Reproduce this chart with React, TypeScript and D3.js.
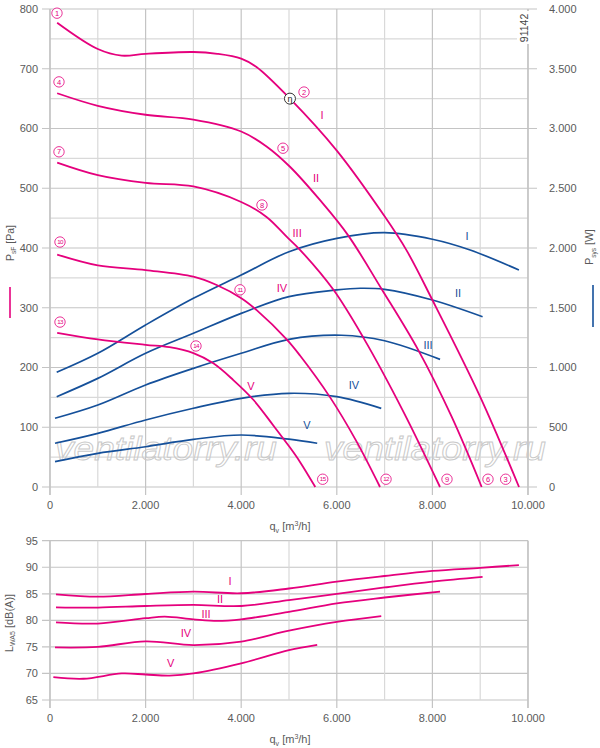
import React from "react";
import * as d3 from "d3";

type Pt = [number, number];

// static pressure psF [Pa] vs qv [m3/h], speeds I..V
const psfI: Pt[] = [[150, 777], [1000, 733], [1500, 722], [2000, 725], [3000, 728], [3500, 725], [4000, 717], [4320, 703], [5020, 650], [6000, 563], [7000, 453], [7460, 396], [8000, 313], [9000, 151], [9812, 0]];
const psfII: Pt[] = [[150, 659], [1000, 638], [2000, 623], [3000, 615], [4000, 595], [4530, 570], [5020, 536], [5650, 480], [6230, 422], [6940, 331], [7705, 229], [8400, 118], [9031, 0]];
const psfIII: Pt[] = [[150, 543], [1000, 522], [2000, 509], [3000, 503], [4000, 477], [4530, 452], [4950, 419], [5230, 397], [5930, 330], [6555, 250], [7400, 125], [8159, 0]];
const psfIV: Pt[] = [[150, 389], [1000, 371], [2000, 363], [3000, 352], [3487, 338], [4002, 316], [4324, 296], [4951, 247], [5230, 220], [5860, 150], [6400, 78], [6904, 0]];
const psfV: Pt[] = [[150, 258], [1000, 247], [2000, 238], [2500, 234], [3000, 224], [3417, 207], [3835, 179], [4254, 146], [4672, 103], [5021, 66], [5230, 42], [5550, 0]];

// system power Psys [W]
const sysI: Pt[] = [[140, 960], [1000, 1119], [2000, 1356], [3000, 1579], [4000, 1774], [5000, 1969], [6000, 2081], [7000, 2128], [8000, 2073], [8790, 1983], [9810, 1816]];
const sysII: Pt[] = [[140, 756], [1000, 909], [2000, 1119], [3000, 1286], [4000, 1453], [5000, 1593], [6000, 1649], [6490, 1663], [7000, 1654], [8000, 1565], [9050, 1425]];
const sysIII: Pt[] = [[105, 575], [1000, 686], [2000, 854], [3000, 993], [4000, 1119], [5000, 1236], [6100, 1270], [7000, 1224], [8160, 1068]];
const sysIV: Pt[] = [[105, 366], [1000, 449], [2000, 561], [3000, 659], [4000, 742], [5000, 784], [6000, 756], [6930, 658]];
const sysV: Pt[] = [[105, 212], [1000, 282], [2000, 337], [3000, 399], [4000, 435], [5000, 400], [5590, 366]];

// sound power LWA5 [dB(A)]
const lwaI: Pt[] = [[125, 84.9], [1000, 84.45], [2000, 84.96], [3000, 85.4], [4000, 85.1], [5000, 86.0], [6000, 87.3], [7000, 88.35], [8000, 89.3], [9000, 89.9], [9810, 90.4]];
const lwaII: Pt[] = [[125, 82.45], [1000, 82.4], [2000, 82.7], [3000, 82.9], [4000, 82.7], [5000, 83.8], [6000, 85.0], [7000, 86.2], [8000, 87.3], [9050, 88.2]];
const lwaIII: Pt[] = [[125, 79.6], [1000, 79.4], [2000, 80.4], [2400, 80.7], [3000, 80.2], [3500, 79.9], [4000, 80.2], [5000, 81.6], [6000, 83.2], [7000, 84.3], [8160, 85.4]];
const lwaIV: Pt[] = [[105, 74.9], [1000, 75.0], [2000, 76.05], [3000, 75.35], [4000, 76.0], [5000, 78.05], [6000, 79.7], [6930, 80.8]];
const lwaV: Pt[] = [[70, 69.3], [700, 69.0], [1500, 70.0], [2000, 69.8], [2500, 69.6], [3000, 70.0], [4000, 71.9], [5000, 74.4], [5590, 75.4]];

const speeds = ["I", "II", "III", "IV", "V"];
const psfCurves = [psfI, psfII, psfIII, psfIV, psfV];
const sysCurves = [sysI, sysII, sysIII, sysIV, sysV];
const lwaCurves = [lwaI, lwaII, lwaIII, lwaIV, lwaV];

// label anchors in data units
const psfLabelAt: Pt[] = [[5690, 623], [5565, 517], [5170, 425], [4850, 333], [4205, 169]];
const sysLabelAt: Pt[] = [[8725, 2100], [8535, 1623], [7910, 1188], [6360, 854], [5375, 519]];
const lwaLabelAt: Pt[] = [[3766, 87.3], [3556, 84.0], [3264, 81.1], [2845, 77.6], [2525, 71.9]];
const pointNums = [1, 4, 7, 10, 13, 2, 5, 8, 11, 14, 3, 6, 9, 12, 15];
const pointAt: Pt[] = [[146, 793], [188, 678], [188, 561], [209, 410], [209, 276], [5314, 661], [4874, 567], [4435, 472], [3975, 330], [3054, 236], [9533, 13], [9163, 13], [8305, 13], [7030, 13], [5705, 13]];
const etaAt: Pt = [5020, 650];

const qTicks = [0, 2000, 4000, 6000, 8000, 10000];
const psfTicks = [0, 100, 200, 300, 400, 500, 600, 700, 800];
const sysTicks = [0, 500, 1000, 1500, 2000, 2500, 3000, 3500, 4000];
const lwaTicks = [65, 70, 75, 80, 85, 90, 95];

const PINK = "#e5007d";
const BLUE = "#15509a";
const GRID = "#c4c4c4";
const GRID2 = "#d9d9d9";
const TXT = "#5a5a5a";

const fmt = d3.formatLocale({ decimal: ",", thousands: ".", grouping: [3], currency: ["", ""] }).format(",d");

const x = d3.scaleLinear().domain([0, 10000]).range([50, 528]);
const yP = d3.scaleLinear().domain([0, 800]).range([487, 9]);
const yW = d3.scaleLinear().domain([0, 4000]).range([487, 9]);
const yL = d3.scaleLinear().domain([65, 95]).range([700, 540.7]);

const QLabel = ({ cx, y }: { cx: number; y: number }) => (
  <text x={cx} y={y} textAnchor="middle" fontSize={11} fill={TXT}>
    q<tspan fontSize={7} dy={3}>v</tspan>
    <tspan dy={-3}> [m</tspan>
    <tspan fontSize={7} dy={-4}>3</tspan>
    <tspan dy={4}>/h]</tspan>
  </text>
);

export default function App() {
  const lineP = d3.line<Pt>().x((d) => x(d[0])).y((d) => yP(d[1])).curve(d3.curveCatmullRom.alpha(0.5));
  const lineW = d3.line<Pt>().x((d) => x(d[0])).y((d) => yW(d[1])).curve(d3.curveCatmullRom.alpha(0.5));
  const lineL = d3.line<Pt>().x((d) => x(d[0])).y((d) => yL(d[1])).curve(d3.curveCatmullRom.alpha(0.5));

  const vGrid = d3.range(0, 10001, 1000);
  const hGridP = d3.range(0, 801, 50);
  const hGridL = d3.range(65, 96, 5);

  return (
    <svg width={600} height={748} style={{ position: "absolute", left: 0, top: 0, background: "#fff" }}
      fontFamily="'Liberation Sans', Arial, sans-serif">
      {/* top chart grid */}
      {hGridP.map((v) => (
        <line key={"hp" + v} x1={v % 100 === 0 ? 42 : 50} x2={v % 100 === 0 ? 537 : 528} y1={yP(v)} y2={yP(v)}
          stroke={v % 100 === 0 ? GRID : GRID2} strokeWidth={1.2} />
      ))}
      {vGrid.map((v) => (
        <line key={"vp" + v} x1={x(v)} x2={x(v)} y1={yP(800)} y2={v % 2000 === 0 ? 495 : 487}
          stroke={v % 2000 === 0 ? GRID : GRID2} strokeWidth={1.2} />
      ))}
      <line x1={50} x2={50} y1={9} y2={495} stroke={GRID} strokeWidth={1.4} />
      <line x1={528} x2={528} y1={9} y2={495} stroke={GRID} strokeWidth={1.4} />

      {/* watermark */}
      {[55, 324].map((wx) => (
        <text key={wx} x={wx} y={460} fontSize={33} fontStyle="italic" textLength={222} lengthAdjust="spacingAndGlyphs"
          fill="none" stroke="#c9c9c9" strokeWidth={0.9}>ventilatorry.ru</text>
      ))}

      {/* tick labels */}
      {psfTicks.map((v) => (
        <text key={"tp" + v} x={38} y={yP(v)} dy="0.35em" textAnchor="end" fontSize={11} fill={TXT}>{v}</text>
      ))}
      {sysTicks.map((v) => (
        <text key={"tw" + v} x={549} y={yW(v)} dy="0.35em" fontSize={11} fill={TXT}>{fmt(v)}</text>
      ))}
      {qTicks.map((v) => (
        <text key={"tq" + v} x={x(v)} y={509} textAnchor="middle" fontSize={11} fill={TXT}>{fmt(v)}</text>
      ))}
      <QLabel cx={290} y={530} />

      {/* axis titles */}
      <text transform="translate(13.5,243) rotate(-90)" textAnchor="middle" fontSize={10.5} fill={TXT}>
        P<tspan fontSize={6.5} dy={2.5}>sF</tspan><tspan dy={-2.5}> [Pa]</tspan>
      </text>
      <line x1={10} x2={10} y1={287} y2={318} stroke={PINK} strokeWidth={1.6} />
      <text transform="translate(593,247) rotate(-90)" textAnchor="middle" fontSize={10.5} fill={TXT}>
        P<tspan fontSize={6.5} dy={2.5}>sys</tspan><tspan dy={-2.5}> [W]</tspan>
      </text>
      <line x1={593} x2={593} y1={285} y2={327} stroke={BLUE} strokeWidth={1.6} />

      {/* drawing number */}
      <rect x={517} y={11} width={12} height={33} fill="#fff" />
      <text transform="translate(528,28) rotate(-90)" textAnchor="middle" fontSize={10.5} fill="#444">91142</text>

      {/* power curves */}
      {sysCurves.map((c, i) => (
        <path key={"s" + i} d={lineW(c) || ""} fill="none" stroke={BLUE} strokeWidth={1.7} />
      ))}
      {/* pressure curves */}
      {psfCurves.map((c, i) => (
        <path key={"p" + i} d={lineP(c) || ""} fill="none" stroke={PINK} strokeWidth={1.8} />
      ))}

      {speeds.map((s, i) => (
        <text key={"lp" + s} x={x(psfLabelAt[i][0])} y={yP(psfLabelAt[i][1])} dy="0.35em" textAnchor="middle"
          fontSize={11} fill={PINK}>{s}</text>
      ))}
      {speeds.map((s, i) => (
        <text key={"lw" + s} x={x(sysLabelAt[i][0])} y={yW(sysLabelAt[i][1])} dy="0.35em" textAnchor="middle"
          fontSize={11} fill={BLUE}>{s}</text>
      ))}

      {pointNums.map((n, i) => (
        <g key={"n" + n} transform={`translate(${x(pointAt[i][0])},${yP(pointAt[i][1])})`}>
          <circle r={5.2} fill="#fff" stroke={PINK} strokeWidth={0.8} />
          <text dy="0.35em" textAnchor="middle" fontSize={n > 9 ? 6.2 : 7.5} fill={PINK}
            letterSpacing={n > 9 ? -0.6 : 0}>{n}</text>
        </g>
      ))}
      <g transform={`translate(${x(etaAt[0])},${yP(etaAt[1])})`}>
        <circle r={5.5} fill="#fff" stroke="#333" strokeWidth={1} />
        <text dy="0.35em" textAnchor="middle" fontSize={9} fill="#222">η</text>
      </g>

      {/* bottom chart grid */}
      {hGridL.map((v) => (
        <line key={"hl" + v} x1={42} x2={528} y1={yL(v)} y2={yL(v)} stroke={GRID} strokeWidth={1.2} />
      ))}
      {vGrid.map((v) => (
        <line key={"vl" + v} x1={x(v)} x2={x(v)} y1={yL(95)} y2={v % 2000 === 0 ? 708 : 700}
          stroke={v % 2000 === 0 ? GRID : GRID2} strokeWidth={1.2} />
      ))}
      <line x1={50} x2={50} y1={yL(95)} y2={708} stroke={GRID} strokeWidth={1.4} />
      <line x1={528} x2={528} y1={yL(95)} y2={708} stroke={GRID} strokeWidth={1.4} />

      {lwaTicks.map((v) => (
        <text key={"tl" + v} x={38} y={yL(v)} dy="0.35em" textAnchor="end" fontSize={11} fill={TXT}>{v}</text>
      ))}
      {qTicks.map((v) => (
        <text key={"tq2" + v} x={x(v)} y={722} textAnchor="middle" fontSize={11} fill={TXT}>{fmt(v)}</text>
      ))}
      <QLabel cx={290} y={743} />
      <text transform="translate(12.5,623) rotate(-90)" textAnchor="middle" fontSize={11} fill={TXT}>
        L<tspan fontSize={7} dy={2.5}>WA5</tspan><tspan dy={-2.5}> [dB(A)]</tspan>
      </text>

      {lwaCurves.map((c, i) => (
        <path key={"l" + i} d={lineL(c) || ""} fill="none" stroke={PINK} strokeWidth={1.8} />
      ))}
      {speeds.map((s, i) => (
        <text key={"ll" + s} x={x(lwaLabelAt[i][0])} y={yL(lwaLabelAt[i][1])} dy="0.35em" textAnchor="middle"
          fontSize={11} fill={PINK}>{s}</text>
      ))}
    </svg>
  );
}
